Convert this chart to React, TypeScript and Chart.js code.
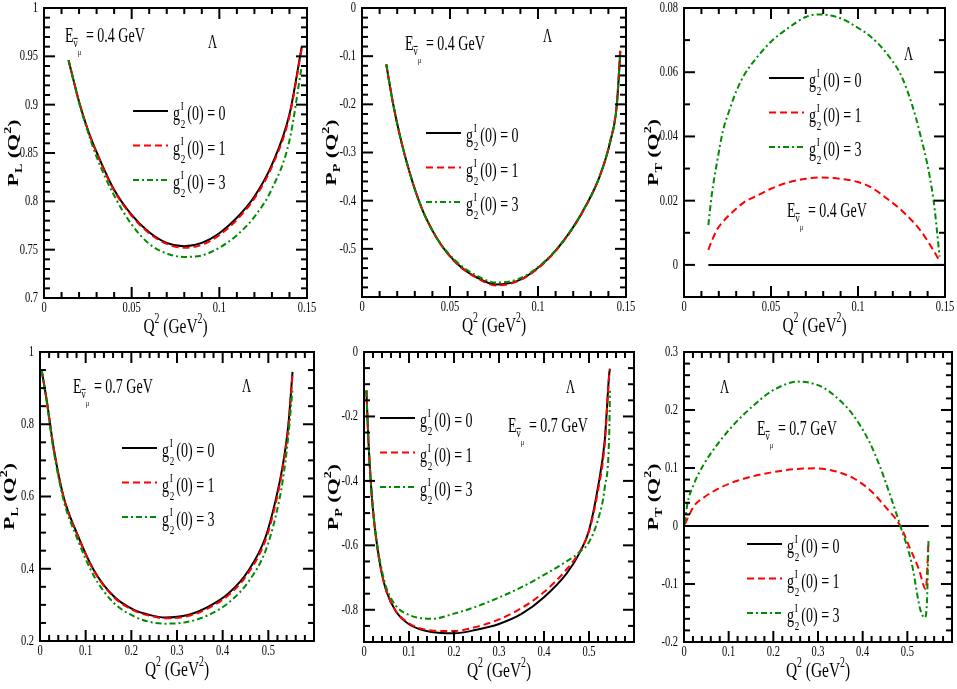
import React, { useEffect, useRef } from 'react';
import { Chart, registerables } from 'chart.js';

Chart.register(...registerables);

// ---------- data ----------
// E = 0.4 GeV, P_L
const q2PL04 = [0.014, 0.02, 0.025, 0.03, 0.04, 0.05, 0.06, 0.07, 0.08, 0.09, 0.1, 0.11, 0.12, 0.13, 0.14, 0.147];
const pl04g0 = [0.946, 0.903, 0.874, 0.851, 0.812, 0.786, 0.768, 0.757, 0.7535, 0.757, 0.767, 0.783, 0.805, 0.838, 0.89, 0.96];
const pl04g1 = [0.946, 0.903, 0.874, 0.85, 0.811, 0.785, 0.767, 0.756, 0.752, 0.755, 0.765, 0.781, 0.803, 0.836, 0.888, 0.958];
const pl04g3 = [0.946, 0.902, 0.872, 0.846, 0.806, 0.776, 0.756, 0.746, 0.7425, 0.744, 0.752, 0.765, 0.784, 0.813, 0.863, 0.94];

// E = 0.4 GeV, P_P
const q2PP04 = [0.0138, 0.016, 0.018, 0.02, 0.023, 0.026, 0.03, 0.035, 0.04, 0.045, 0.05, 0.056, 0.065, 0.076, 0.088, 0.097, 0.108, 0.12, 0.128, 0.135, 0.141, 0.1447, 0.1468];
const pp04g0 = [-0.117, -0.165, -0.205, -0.24, -0.287, -0.328, -0.376, -0.425, -0.462, -0.492, -0.515, -0.537, -0.559, -0.574, -0.567, -0.548, -0.512, -0.455, -0.405, -0.35, -0.278, -0.205, -0.09];
const pp04g1 = [-0.117, -0.165, -0.205, -0.24, -0.287, -0.328, -0.376, -0.425, -0.462, -0.492, -0.516, -0.538, -0.56, -0.576, -0.568, -0.549, -0.513, -0.456, -0.406, -0.35, -0.277, -0.2, -0.083];
const pp04g3 = [-0.117, -0.165, -0.205, -0.24, -0.287, -0.328, -0.376, -0.425, -0.462, -0.491, -0.513, -0.534, -0.555, -0.57, -0.564, -0.546, -0.511, -0.455, -0.405, -0.35, -0.278, -0.205, -0.09];

// E = 0.4 GeV, P_T
const q2PT04g0 = [0.014, 0.149];
const pt04g0 = [0, 0];
const q2PT04 = [0.014, 0.016, 0.019, 0.0225, 0.026, 0.03, 0.035, 0.041, 0.05, 0.06, 0.07, 0.077, 0.09, 0.1, 0.107, 0.117, 0.126, 0.1356, 0.1434, 0.1469];
const pt04g1 = [0.0047, 0.0075, 0.011, 0.0135, 0.0155, 0.0175, 0.0197, 0.0213, 0.0237, 0.0257, 0.0268, 0.0272, 0.0268, 0.0258, 0.0243, 0.0205, 0.0165, 0.0109, 0.0045, 0.0012];
const pt04g3 = [0.0124, 0.022, 0.032, 0.042, 0.048, 0.054, 0.0595, 0.064, 0.0695, 0.0738, 0.0772, 0.078, 0.0768, 0.0738, 0.0712, 0.0655, 0.0575, 0.041, 0.0202, 0.0026];

// E = 0.7 GeV, P_L
const q2PL07 = [0.0037, 0.0147, 0.0295, 0.0516, 0.081, 0.118, 0.162, 0.206, 0.24, 0.273, 0.324, 0.369, 0.413, 0.457, 0.494, 0.516, 0.531, 0.544, 0.553];
const pl07g0 = [0.949, 0.866, 0.737, 0.599, 0.498, 0.396, 0.323, 0.286, 0.272, 0.265, 0.272, 0.295, 0.332, 0.396, 0.488, 0.59, 0.682, 0.8, 0.945];
const pl07g1 = [0.949, 0.866, 0.737, 0.598, 0.496, 0.394, 0.321, 0.284, 0.27, 0.263, 0.269, 0.291, 0.327, 0.39, 0.48, 0.58, 0.675, 0.795, 0.94];
const pl07g3 = [0.949, 0.862, 0.73, 0.59, 0.485, 0.38, 0.305, 0.268, 0.253, 0.248, 0.253, 0.272, 0.306, 0.365, 0.45, 0.545, 0.64, 0.77, 0.9];

// E = 0.7 GeV, P_P
const q2PP07 = [0.0053, 0.0098, 0.015, 0.0203, 0.03, 0.04, 0.05, 0.07, 0.1, 0.15, 0.2, 0.25, 0.3, 0.35, 0.4, 0.45, 0.48, 0.5, 0.52, 0.535, 0.545, 0.5466];
const pp07g0 = [-0.119, -0.274, -0.4, -0.495, -0.61, -0.69, -0.743, -0.803, -0.845, -0.869, -0.873, -0.862, -0.844, -0.813, -0.761, -0.688, -0.621, -0.554, -0.419, -0.274, -0.067, -0.052];
const pp07g1 = [-0.119, -0.274, -0.4, -0.495, -0.61, -0.69, -0.743, -0.802, -0.842, -0.864, -0.866, -0.853, -0.83, -0.795, -0.745, -0.675, -0.618, -0.556, -0.43, -0.285, -0.07, -0.052];
const pp07g3 = [-0.119, -0.274, -0.4, -0.495, -0.605, -0.68, -0.733, -0.786, -0.816, -0.828, -0.812, -0.79, -0.762, -0.73, -0.692, -0.65, -0.62, -0.59, -0.52, -0.42, -0.25, -0.12];

// E = 0.7 GeV, P_T
const q2PT07g0 = [0.002, 0.548];
const pt07g0 = [0, 0];
const q2PT07g1 = [0.002, 0.022, 0.044, 0.081, 0.119, 0.193, 0.267, 0.296, 0.341, 0.378, 0.415, 0.452, 0.4844, 0.504, 0.526, 0.5414, 0.5474];
const pt07g1 = [0.003, 0.034, 0.049, 0.066, 0.078, 0.092, 0.099, 0.0994, 0.094, 0.083, 0.063, 0.032, 0, -0.035, -0.075, -0.109, -0.026];
const q2PT07g3 = [0.002, 0.0074, 0.022, 0.044, 0.081, 0.119, 0.156, 0.193, 0.23, 0.252, 0.281, 0.311, 0.341, 0.378, 0.415, 0.44, 0.4585, 0.4844, 0.51, 0.529, 0.539, 0.5437, 0.5474];
const pt07g3 = [0.005, 0.037, 0.072, 0.106, 0.147, 0.181, 0.208, 0.231, 0.245, 0.249, 0.247, 0.239, 0.222, 0.192, 0.145, 0.1, 0.06, 0, -0.065, -0.144, -0.158, -0.135, -0.026];

// tick labels
const xTicks04 = [0, 0.05, 0.1, 0.15];
const xTicks07 = [0, 0.1, 0.2, 0.3, 0.4, 0.5];
const yTicksPL04 = [0.7, 0.75, 0.8, 0.85, 0.9, 0.95, 1];
const yTicksPP04 = [-0.5, -0.4, -0.3, -0.2, -0.1, 0];
const yTicksPT04 = [0, 0.02, 0.04, 0.06, 0.08];
const yTicksPL07 = [0.2, 0.4, 0.6, 0.8, 1];
const yTicksPP07 = [-0.8, -0.6, -0.4, -0.2, 0];
const yTicksPT07 = [-0.2, -0.1, 0, 0.1, 0.2, 0.3];

const couplings = ['0', '1', '3'];

// ---------- styling ----------
const SERIF = '"Liberation Serif", "Times New Roman", serif';
const SX = 0.7; // the figure's lettering is horizontally narrow
const lineStyles = [
  { color: '#000000', dash: [] as number[] },
  { color: '#ff0000', dash: [7, 4] },
  { color: '#008b00', dash: [6, 3, 2, 3] },
];

type Axis = { min: number; max: number; ticks: number[]; minor: number };
type Panel = {
  cell: { left: number; top: number; w: number; h: number };
  plot: { left: number; top: number; right: number; bottom: number };
  x: Axis;
  y: Axis;
  sub: string;
  energy: string;
  ePos: [number, number];
  lamPos: [number, number];
  legPos: [number, number];
  series: { x: number[]; y: number[] }[];
};

const panels: Panel[] = [
  {
    cell: { left: 0, top: 0, w: 320, h: 340 },
    plot: { left: 44, top: 8, right: 307, bottom: 298 },
    x: { min: 0, max: 0.15, ticks: xTicks04, minor: 0.01 },
    y: { min: 0.7, max: 1, ticks: yTicksPL04, minor: 0.01 },
    sub: 'L', energy: '0.4', ePos: [21, 34], lamPos: [164, 40], legPos: [89, 103],
    series: [{ x: q2PL04, y: pl04g0 }, { x: q2PL04, y: pl04g1 }, { x: q2PL04, y: pl04g3 }],
  },
  {
    cell: { left: 320, top: 0, w: 317, h: 340 },
    plot: { left: 362, top: 8, right: 626, bottom: 297 },
    x: { min: 0, max: 0.15, ticks: xTicks04, minor: 0.01 },
    y: { min: -0.6, max: 0, ticks: yTicksPP04, minor: 0.02 },
    sub: 'P', energy: '0.4', ePos: [43, 42], lamPos: [181, 34], legPos: [64, 125],
    series: [{ x: q2PP04, y: pp04g0 }, { x: q2PP04, y: pp04g1 }, { x: q2PP04, y: pp04g3 }],
  },
  {
    cell: { left: 637, top: 0, w: 320, h: 340 },
    plot: { left: 684, top: 8, right: 945, bottom: 297 },
    x: { min: 0, max: 0.15, ticks: xTicks04, minor: 0.01 },
    y: { min: -0.01, max: 0.08, ticks: yTicksPT04, minor: 0.01 },
    sub: 'T', energy: '0.4', ePos: [103, 209], lamPos: [220, 52], legPos: [85, 70],
    series: [{ x: q2PT04g0, y: pt04g0 }, { x: q2PT04, y: pt04g1 }, { x: q2PT04, y: pt04g3 }],
  },
  {
    cell: { left: 0, top: 340, w: 320, h: 349 },
    plot: { left: 40, top: 352, right: 314, bottom: 641 },
    x: { min: 0, max: 0.6, ticks: xTicks07, minor: 0.02 },
    y: { min: 0.2, max: 1, ticks: yTicksPL07, minor: 0.05 },
    sub: 'L', energy: '0.7', ePos: [33, 41], lamPos: [202, 40], legPos: [82, 96],
    series: [{ x: q2PL07, y: pl07g0 }, { x: q2PL07, y: pl07g1 }, { x: q2PL07, y: pl07g3 }],
  },
  {
    cell: { left: 320, top: 340, w: 317, h: 349 },
    plot: { left: 364, top: 352, right: 634, bottom: 642 },
    x: { min: 0, max: 0.6, ticks: xTicks07, minor: 0.02 },
    y: { min: -0.9, max: 0, ticks: yTicksPP07, minor: 0.05 },
    sub: 'P', energy: '0.7', ePos: [144, 80], lamPos: [202, 41], legPos: [16, 66],
    series: [{ x: q2PP07, y: pp07g0 }, { x: q2PP07, y: pp07g1 }, { x: q2PP07, y: pp07g3 }],
  },
  {
    cell: { left: 637, top: 340, w: 320, h: 349 },
    plot: { left: 684, top: 352, right: 952, bottom: 642 },
    x: { min: 0, max: 0.6, ticks: xTicks07, minor: 0.02 },
    y: { min: -0.2, max: 0.3, ticks: yTicksPT07, minor: 0.02 },
    sub: 'T', energy: '0.7', ePos: [73, 83], lamPos: [36, 41], legPos: [63, 192],
    series: [{ x: q2PT07g0, y: pt07g0 }, { x: q2PT07g1, y: pt07g1 }, { x: q2PT07g3, y: pt07g3 }],
  },
];

// ---------- text helpers ----------
type Seg = { t: string; size: number; dy?: number; dx?: number; bold?: boolean; stack?: boolean; bar?: boolean };

const fontOf = (s: Seg) => `${s.bold ? 'bold ' : ''}${s.size}px ${SERIF}`;

function drawRich(
  ctx: CanvasRenderingContext2D,
  segs: Seg[],
  x: number,
  y: number,
  opts: { sx?: number; sy?: number; align?: 'left' | 'center'; rotate?: number } = {}
) {
  ctx.save();
  ctx.translate(x, y);
  if (opts.rotate) ctx.rotate(opts.rotate);
  ctx.scale(opts.sx ?? SX, opts.sy ?? 1);
  ctx.textAlign = 'left';
  ctx.textBaseline = 'alphabetic';
  ctx.fillStyle = '#000';
  let total = 0;
  for (const s of segs) {
    ctx.font = fontOf(s);
    total += (s.dx || 0) + (s.stack ? 0 : ctx.measureText(s.t).width);
  }
  let cx = opts.align === 'center' ? -total / 2 : 0;
  for (const s of segs) {
    ctx.font = fontOf(s);
    cx += s.dx || 0;
    const dy = s.dy || 0;
    const w = ctx.measureText(s.t).width;
    ctx.fillText(s.t, cx, dy);
    if (s.bar) {
      ctx.fillRect(cx, dy - s.size * 0.7, w, 1);
    }
    if (!s.stack) cx += w;
  }
  ctx.restore();
}

function drawText(ctx: CanvasRenderingContext2D, t: string, x: number, y: number, size: number, align: CanvasTextAlign) {
  ctx.save();
  ctx.translate(x, y);
  ctx.scale(SX, 1);
  ctx.font = `${size}px ${SERIF}`;
  ctx.fillStyle = '#000';
  ctx.textAlign = align;
  ctx.textBaseline = 'middle';
  ctx.fillText(t, 0, 0);
  ctx.restore();
}

const fmt = (v: number) => String(parseFloat(v.toFixed(3)));

// tick positions along an axis: every minor step, flagged major where a label sits
function tickList(ax: Axis) {
  const out: { v: number; major: boolean }[] = [];
  const n = Math.round((ax.max - ax.min) / ax.minor);
  for (let i = 1; i < n; i++) {
    const v = ax.min + i * ax.minor;
    out.push({ v, major: ax.ticks.some((t) => Math.abs(t - v) < ax.minor / 4) });
  }
  return out;
}

const tickMarks = (p: Panel) => {
  const xl = tickList(p.x);
  const yl = tickList(p.y);
  return {
    id: 'tickMarks',
    afterDatasetsDraw(chart: Chart) {
      const ctx = chart.ctx;
      const a = chart.chartArea;
      const xs = chart.scales.x;
      const ys = chart.scales.y;
      ctx.save();
      ctx.fillStyle = '#000';
      xl.forEach(({ v, major }) => {
        const len = major ? 11 : 6;
        const px = xs.getPixelForValue(v);
        ctx.fillRect(px - 1, a.bottom - len, 2, len);
        ctx.fillRect(px - 1, a.top, 2, len);
      });
      yl.forEach(({ v, major }) => {
        const len = major ? 11 : 6;
        const py = ys.getPixelForValue(v);
        ctx.fillRect(a.left, py - 1, len, 2);
        ctx.fillRect(a.right - len, py - 1, len, 2);
      });
      ctx.restore();
    },
  };
};

const decor = (p: Panel) => ({
  id: 'decor',
  afterDraw(chart: Chart) {
    const ctx = chart.ctx;
    const a = chart.chartArea;
    const xs = chart.scales.x;
    const ys = chart.scales.y;
    ctx.save();
    ctx.setLineDash([]);
    ctx.fillStyle = '#000';
    ctx.strokeStyle = '#000';
    ctx.lineWidth = 2;

    // frame
    ctx.strokeRect(a.left, a.top, a.right - a.left, a.bottom - a.top);

    // tick labels
    p.x.ticks.forEach((v) => drawText(ctx, fmt(v), xs.getPixelForValue(v), a.bottom + 10, 15, 'center'));
    p.y.ticks.forEach((v) => drawText(ctx, fmt(v), a.left - 6, ys.getPixelForValue(v), 15, 'right'));

    // axis titles
    const midX = (a.left + a.right) / 2;
    const midY = (a.top + a.bottom) / 2;
    drawRich(
      ctx,
      [
        { t: 'Q', size: 22 },
        { t: '2', size: 14, dy: -10 },
        { t: ' (GeV', size: 22 },
        { t: '2', size: 14, dy: -10 },
        { t: ')', size: 22 },
      ],
      midX,
      a.bottom + 35,
      { align: 'center' }
    );
    drawRich(
      ctx,
      [
        { t: 'P', size: 22, bold: true },
        { t: p.sub, size: 14, dy: 6, bold: true },
        { t: ' (Q', size: 22, bold: true },
        { t: '2', size: 14, dy: -10, bold: true },
        { t: ')', size: 22, bold: true },
      ],
      a.left - 26,
      midY,
      { align: 'center', rotate: -Math.PI / 2, sx: 1, sy: SX }
    );

    // beam energy label
    drawRich(
      ctx,
      [
        { t: 'E', size: 20 },
        { t: 'ν', size: 13, dy: 5, bar: true },
        { t: 'μ', size: 9, dy: 13 },
        { t: ` = ${p.energy} GeV`, size: 20, dx: 2 },
      ],
      a.left + p.ePos[0],
      a.top + p.ePos[1]
    );

    // Lambda
    drawRich(ctx, [{ t: 'Λ', size: 18 }], a.left + p.lamPos[0], a.top + p.lamPos[1]);

    // legend
    couplings.forEach((c, i) => {
      const lx = a.left + p.legPos[0];
      const ly = a.top + p.legPos[1] + i * 34.5;
      ctx.save();
      ctx.lineWidth = 2;
      ctx.strokeStyle = lineStyles[i].color;
      ctx.setLineDash(lineStyles[i].dash);
      ctx.beginPath();
      ctx.moveTo(lx, ly);
      ctx.lineTo(lx + 35, ly);
      ctx.stroke();
      ctx.restore();
      drawRich(
        ctx,
        [
          { t: 'g', size: 20 },
          { t: 'I', size: 13, dy: -10, dx: 1, stack: true },
          { t: '2', size: 13, dy: 8 },
          { t: `(0) = ${c}`, size: 20, dx: 3 },
        ],
        lx + 40,
        ly + 9
      );
    });
    ctx.restore();
  },
});

function PanelChart({ p }: { p: Panel }) {
  const canvasRef = useRef<HTMLCanvasElement | null>(null);

  useEffect(() => {
    const canvas = canvasRef.current;
    if (!canvas) return;
    const chart = new Chart(canvas, {
      type: 'line',
      data: {
        datasets: p.series.map((s, i) => ({
          data: s.x.map((x, k) => ({ x, y: s.y[k] })),
          borderColor: lineStyles[i].color,
          borderDash: lineStyles[i].dash,
          borderWidth: 2,
          pointRadius: 0,
          fill: false,
          cubicInterpolationMode: 'monotone' as const,
          order: 3 - i,
        })),
      },
      options: {
        animation: false,
        responsive: true,
        maintainAspectRatio: false,
        events: [],
        layout: {
          padding: {
            left: p.plot.left - p.cell.left,
            top: p.plot.top - p.cell.top,
            right: p.cell.left + p.cell.w - p.plot.right,
            bottom: p.cell.top + p.cell.h - p.plot.bottom,
          },
        },
        scales: {
          x: { type: 'linear', min: p.x.min, max: p.x.max, display: false },
          y: { type: 'linear', min: p.y.min, max: p.y.max, display: false },
        },
        plugins: {
          legend: { display: false },
          tooltip: { enabled: false },
        },
      },
      plugins: [tickMarks(p), decor(p)],
    });
    return () => {
      chart.destroy();
    };
  }, [p]);

  return (
    <div style={{ position: 'absolute', left: p.cell.left, top: p.cell.top, width: p.cell.w, height: p.cell.h }}>
      <canvas ref={canvasRef} />
    </div>
  );
}

export default function App() {
  return (
    <div style={{ position: 'fixed', left: 0, top: 0, width: 957, height: 689, background: '#ffffff', overflow: 'hidden' }}>
      {panels.map((p, i) => (
        <PanelChart key={i} p={p} />
      ))}
    </div>
  );
}
